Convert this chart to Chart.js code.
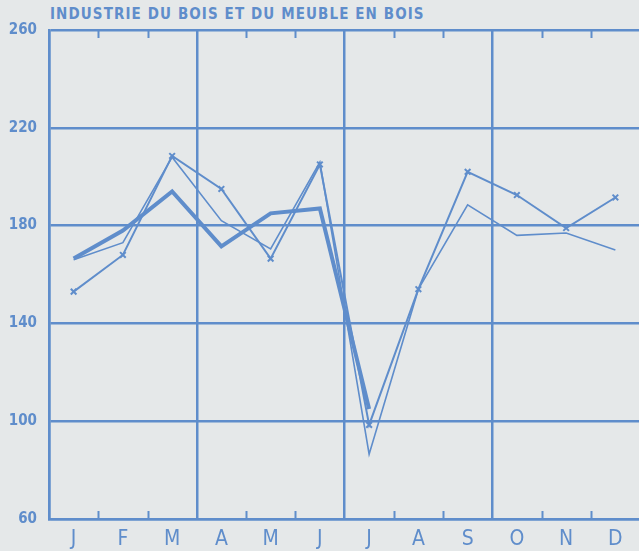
<!DOCTYPE html>
<html lang="fr">
<head>
<meta charset="UTF-8">
<title>Industrie du bois et du meuble en bois</title>
<script src="https://cdn.jsdelivr.net/npm/chart.js"></script>
<style>
    body {
        margin: 0;
        background: #e5e8e9;
        overflow: hidden;
        width: 639px;
        height: 551px;
        position: relative;
    }
    #titre {
        position: absolute;
        left: 50px;
        top: 5px;
        font-family: 'DejaVu Sans Condensed', 'DejaVu Sans', sans-serif;
        font-weight: bold;
        font-size: 15px;
        letter-spacing: 1.1px;
        color: #5f8dcb;
        white-space: nowrap;
    }
    #wrap {
        position: absolute;
        left: 0;
        top: 0;
        width: 646px;
        height: 551px;
    }
</style>
</head>
<body>
<div id="titre">INDUSTRIE DU BOIS ET DU MEUBLE EN BOIS</div>
<div id="wrap"><canvas id="graph"></canvas></div>

<script>
    const mois = ['J', 'F', 'M', 'A', 'M', 'J', 'J', 'A', 'S', 'O', 'N', 'D'];
    // trait épais (s'arrête en juillet)
    const serieEpaisse = [166.5, 178, 194, 171.5, 185, 187, 105, null, null, null, null, null];
    // trait avec croix
    const serieCroix = [153, 168, 208.5, 195, 166.5, 205, 98.5, 154, 202, 192.5, 179, 191.5];
    // trait fin
    const serieFine = [166, 173, 208, 182, 170.5, 206, 86.5, 154, 188.5, 176, 177, 170];
    const yMin = 60, yMax = 260, yPas = 40;

    const bleu = '#5f8dcb';
    const police = "'DejaVu Sans Condensed', 'DejaVu Sans', sans-serif";

    // petites graduations mensuelles en haut et en bas
    const graduations = {
        id: 'graduations',
        afterDatasetsDraw(chart) {
            const { ctx, chartArea: a, scales: { x } } = chart;
            ctx.save();
            ctx.strokeStyle = bleu;
            ctx.lineWidth = 2;
            for (let i = 1; i < mois.length; i++) {
                if (i % 3 === 0) continue;
                const px = Math.round((x.getPixelForValue(i - 1) + x.getPixelForValue(i)) / 2) + 0.5;
                ctx.beginPath();
                ctx.moveTo(px, a.top); ctx.lineTo(px, a.top + 8);
                ctx.moveTo(px, a.bottom); ctx.lineTo(px, a.bottom - 8);
                ctx.stroke();
            }
            ctx.restore();
        }
    };

    new Chart(document.getElementById('graph'), {
        type: 'line',
        data: {
            labels: mois,
            datasets: [
                { data: serieEpaisse, borderColor: bleu, borderWidth: 4, pointRadius: 0, spanGaps: false },
                { data: serieCroix, borderColor: bleu, borderWidth: 2, pointStyle: 'crossRot', pointRadius: 4, pointBorderWidth: 2, pointBorderColor: bleu },
                { data: serieFine, borderColor: bleu, borderWidth: 1.6, pointRadius: 0 }
            ]
        },
        options: {
            responsive: true,
            maintainAspectRatio: false,
            animation: false,
            events: [],
            layout: { padding: { top: 30, right: 5, left: 0, bottom: 0 } },
            plugins: { legend: { display: false }, tooltip: { enabled: false } },
            scales: {
                x: {
                    offset: true,
                    grid: {
                        offset: true,
                        drawTicks: false,
                        lineWidth: 2.5,
                        color: c => (c.index % 3 === 0 ? bleu : 'rgba(0,0,0,0)')
                    },
                    border: { display: true, color: bleu, width: 2.5 },
                    ticks: { color: bleu, padding: 8, font: { family: police, size: 21 } },
                    afterFit(s) { s.height = 32; }
                },
                y: {
                    min: yMin,
                    max: yMax,
                    grid: { drawTicks: false, lineWidth: 2.5, color: bleu },
                    border: { display: true, color: bleu, width: 2.5 },
                    ticks: { stepSize: yPas, color: bleu, padding: 12, font: { family: police, size: 15, weight: 'bold' } },
                    afterFit(s) { s.width = 49; }
                }
            }
        },
        plugins: [graduations]
    });
</script>
</body>
</html>
